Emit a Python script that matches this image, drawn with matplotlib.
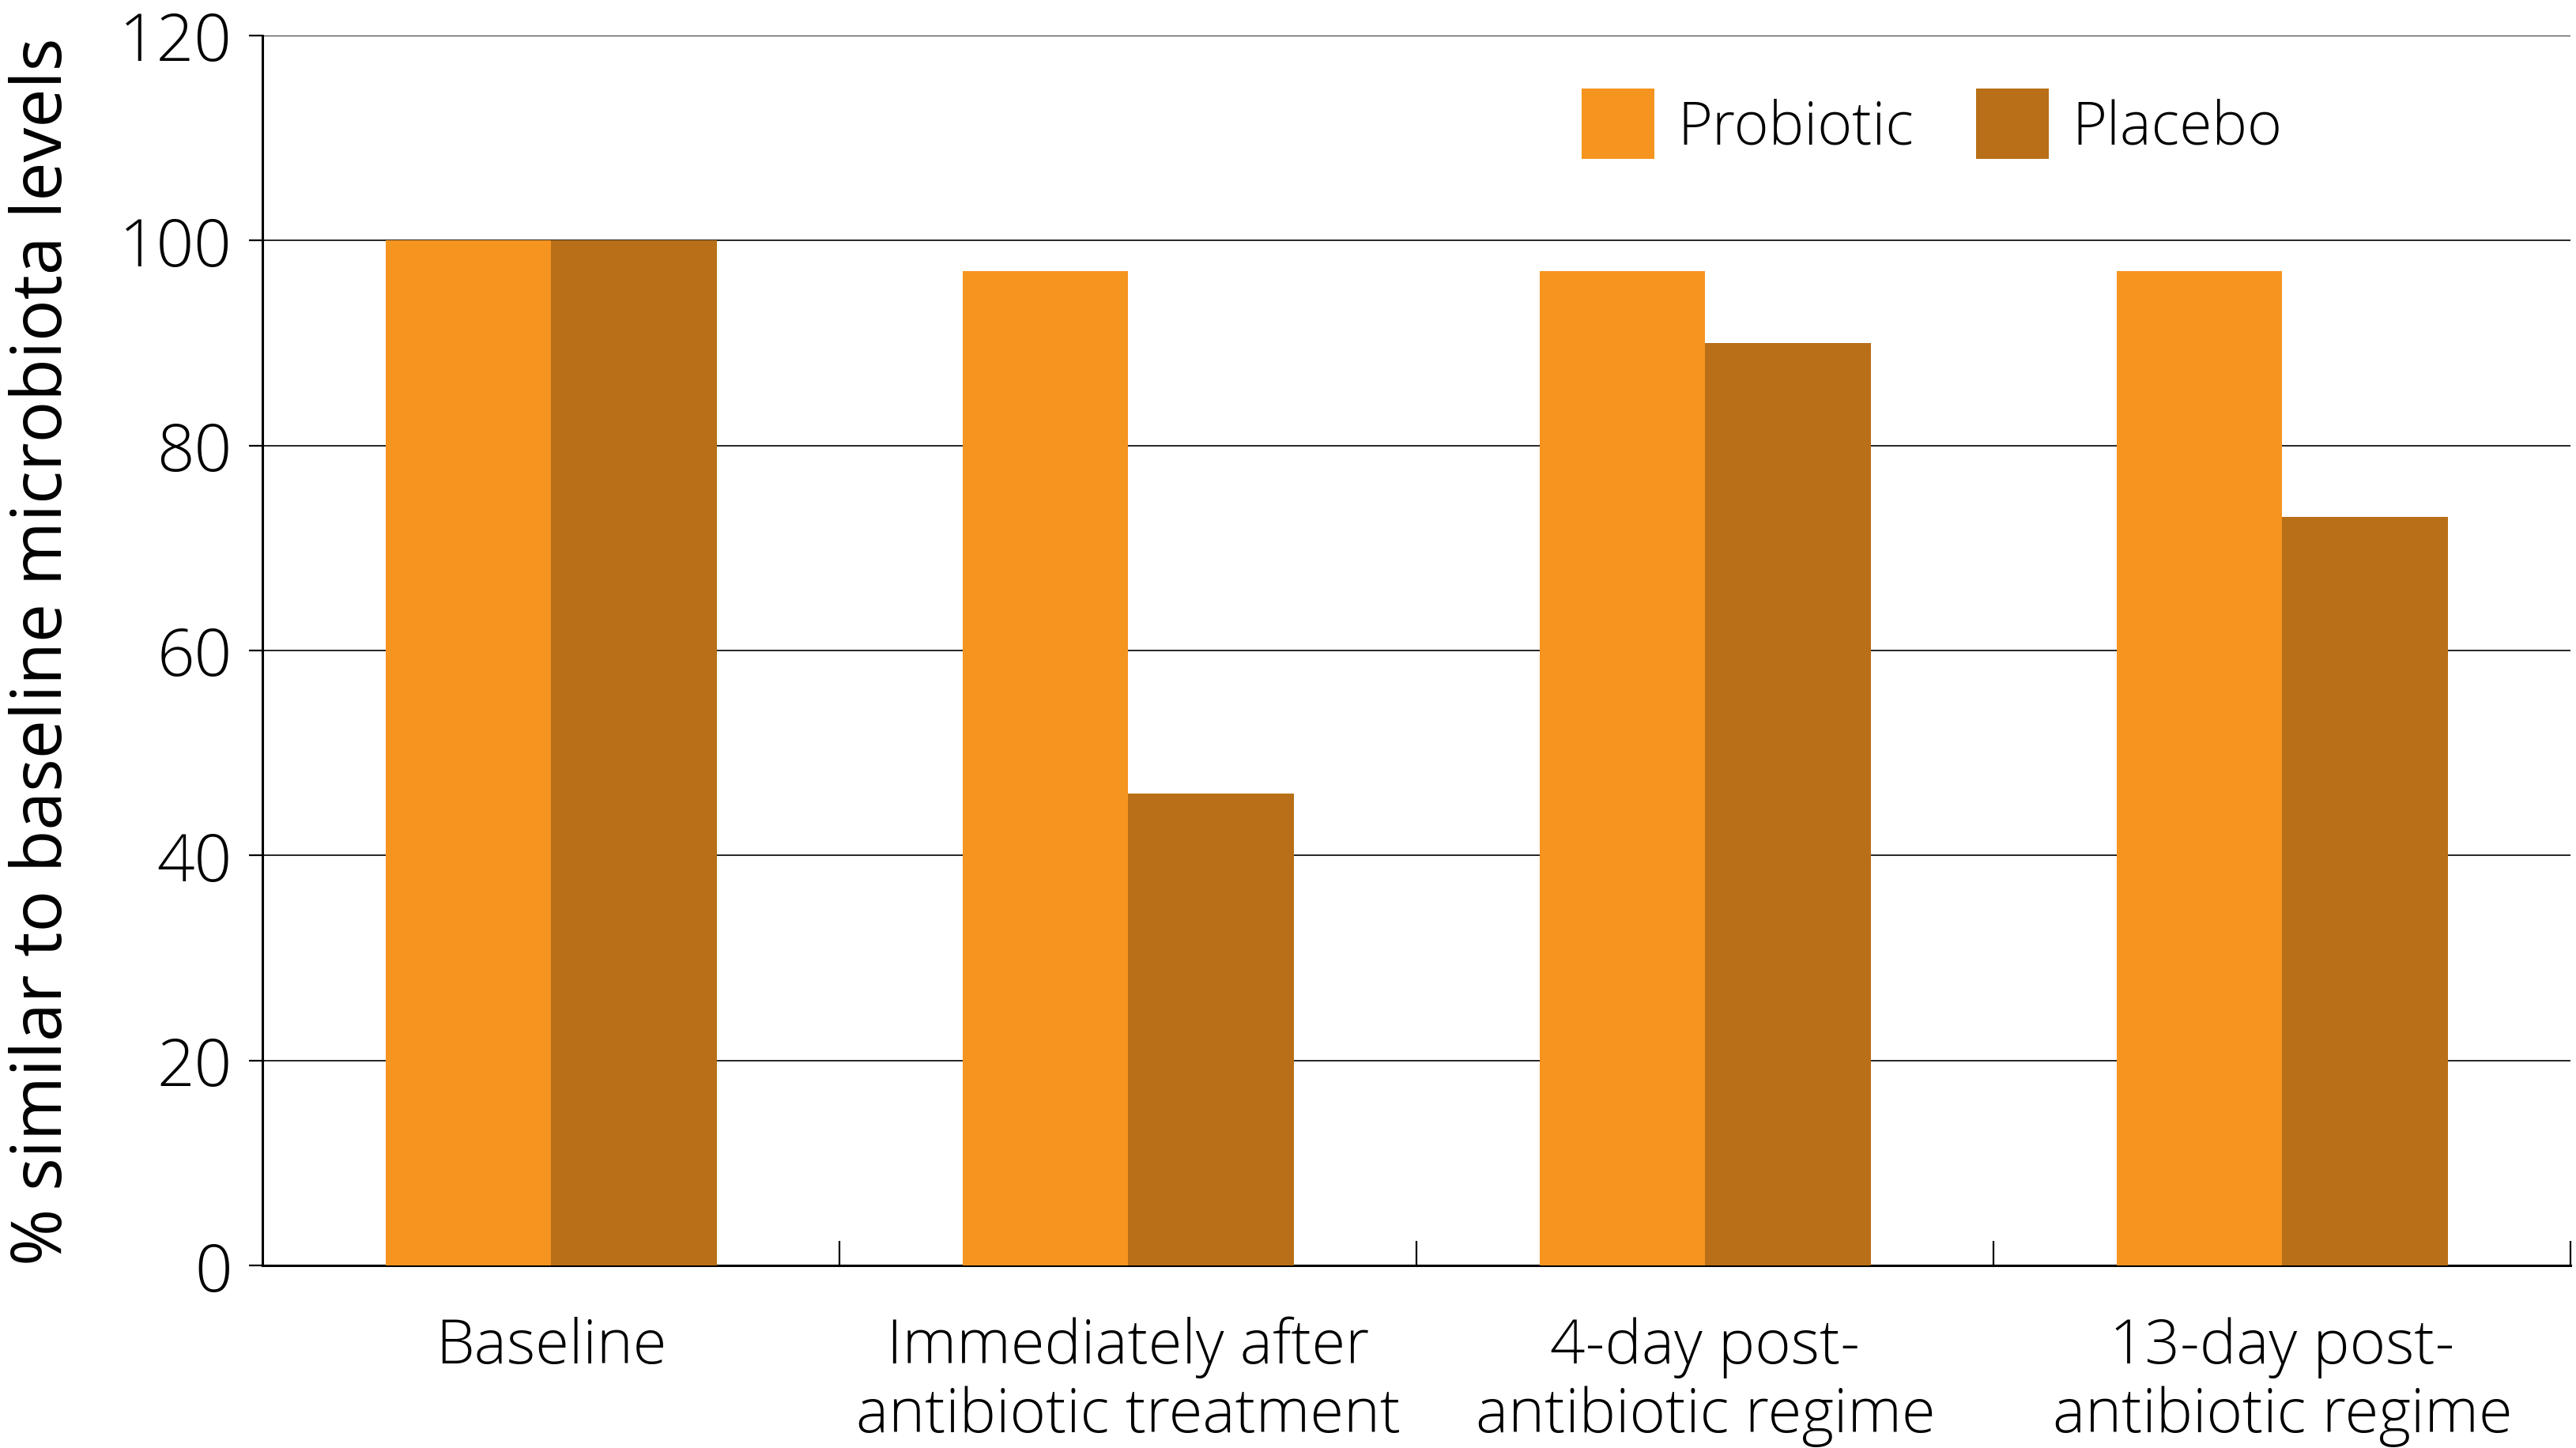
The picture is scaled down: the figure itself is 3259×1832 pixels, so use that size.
import matplotlib
matplotlib.use("Agg")
import matplotlib.pyplot as plt
import numpy as np

categories = ["Baseline", "Immediately after\nantibiotic treatment",
              "4-day post-\nantibiotic regime", "13-day post-\nantibiotic regime"]
probiotic = [100, 97, 97, 97]
placebo = [100, 46, 90, 73]
yticks = [0, 20, 40, 60, 80, 100, 120]

plt.rcParams['font.family'] = ['Open Sans', 'DejaVu Sans']
plt.rcParams['font.weight'] = 'light'

fig = plt.figure(figsize=(16.295, 9.165), dpi=200)
ax = fig.add_axes([0.102, 0.126, 0.896, 0.849])

x = np.arange(len(categories))
w = 0.287
ax.bar(x - w / 2, probiotic, w, color='#F5941F', label='Probiotic', zorder=3)
ax.bar(x + w / 2, placebo, w, color='#B86F17', label='Placebo', zorder=3)

ax.set_xlim(-0.5, 3.5)
ax.set_ylim(0, 120)
ax.set_yticks(yticks)
for v in yticks[1:]:
    ax.axhline(v, color='black', lw=0.6, zorder=1)

for s in ['top', 'right']:
    ax.spines[s].set_visible(False)
ax.spines['left'].set_linewidth(1.1)
ax.spines['bottom'].set_linewidth(1.1)

ax.tick_params(axis='y', direction='out', length=6, width=0.8, pad=8, labelsize=30)
ax.set_xticks(x + 0.5)
ax.set_xticklabels([])
ax.tick_params(axis='x', which='major', direction='in', length=11, width=0.8)
ax.set_xticks(x, minor=True)
ax.set_xticklabels(categories, minor=True, fontsize=28, linespacing=1.15)
ax.tick_params(axis='x', which='minor', length=0, pad=23)

ax.set_ylabel('% similar to baseline microbiota levels', fontsize=31.5)
ax.yaxis.set_label_coords(-0.080, 0.5)

ax.legend(loc='center left', bbox_to_anchor=(0.614, 0.914), bbox_transform=fig.transFigure,
          ncol=2, frameon=False, fontsize=27, handlelength=1.23, handleheight=1.45,
          handletextpad=0.39, columnspacing=1.04, borderpad=0, borderaxespad=0)

fig.savefig('out.png', dpi=200)
